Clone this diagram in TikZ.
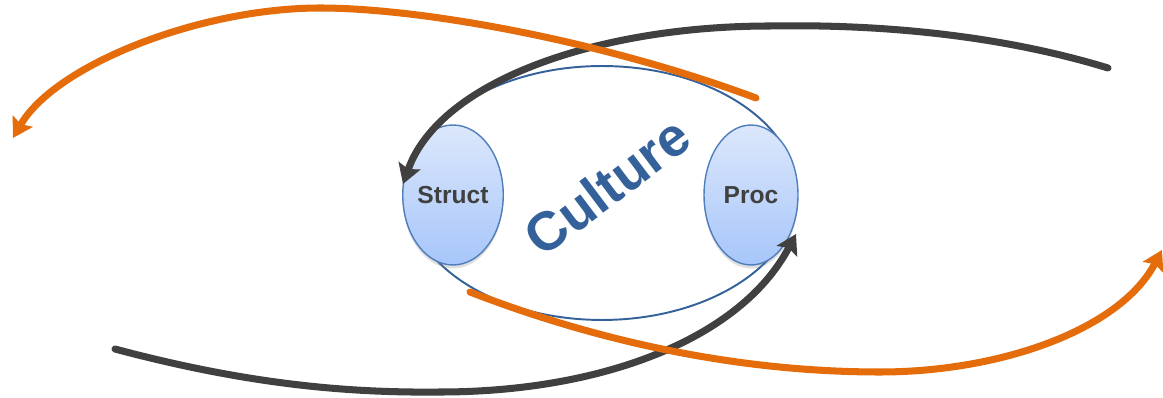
\documentclass[tikz,border=0pt]{standalone}
\usepackage{fontspec}
\setmainfont{Liberation Sans}
\usetikzlibrary{arrows.meta,shapes.geometric,shadows}
\definecolor{cblue}{HTML}{34619A}
\definecolor{corange}{HTML}{E46C0A}
\definecolor{cdark}{HTML}{404040}
\definecolor{ctop}{HTML}{DCE7FB}
\definecolor{cbot}{HTML}{A7C6FA}
\definecolor{cedge}{HTML}{4F7EBD}
\begin{document}
\begin{tikzpicture}[x=0.02cm,y=-0.02cm,
  bubble/.style={ellipse, draw=cedge, line width=0.8pt, top color=ctop, bottom color=cbot,
    minimum width=1.88cm, minimum height=2.8cm, inner sep=0pt,
    drop shadow={opacity=0.25, shadow xshift=0pt, shadow yshift=-2pt},
    font=\bfseries\fontsize{14}{16}\selectfont, text=cdark},
  ring/.style={ellipse, draw=cblue, line width=1.1pt, minimum width=7.8cm, minimum height=5.08cm, inner sep=0pt},
  flow/.style={line width=4pt, line cap=round, -{Stealth[length=11pt, width=13pt, inset=2pt]}},
  darkflow/.style={flow, draw=cdark},
  orangeflow/.style={flow, draw=corange}]
\useasboundingbox (0,0) rectangle (1163,398);
% culture ring
\node[ring] (ring) at (602,193) {};
\node[bubble] (struct) at (453,195) {Struct};
\node[bubble] (proc) at (751,195) {Proc};
\node[rotate=37, text=cblue, font=\bfseries\fontsize{31}{36}\selectfont] (cult) at (607,186) {Culture};
% endpoints
\coordinate (d1s) at (1108,68);
\coordinate (d1m) at (770,26);
\coordinate (d1e) at (403,184);
\coordinate (d2s) at (115,349);
\coordinate (d2m) at (440,392);
\coordinate (d2e) at (796,234);
\coordinate (o1s) at (756,98);
\coordinate (o1m) at (320,8);
\coordinate (o1e) at (13,138);
\coordinate (o2s) at (470,292);
\coordinate (o2m) at (880,372);
\coordinate (o2e) at (1162,250);
% dark arrows
\draw[darkflow] (d1s) .. controls (1000,35) and (880,24) .. (d1m)
  .. controls (600,26) and (440,80) .. (d1e);
\draw[darkflow] (d2s) .. controls (250,385) and (350,393) .. (d2m)
  .. controls (600,392) and (740,340) .. (d2e);
% orange arrows
\draw[orangeflow] (o1s) .. controls (600,40) and (420,8) .. (o1m)
  .. controls (200,8) and (55,65) .. (o1e);
\draw[orangeflow] (o2s) .. controls (620,350) and (760,372) .. (o2m)
  .. controls (1000,372) and (1120,330) .. (o2e);
\end{tikzpicture}
\end{document}
